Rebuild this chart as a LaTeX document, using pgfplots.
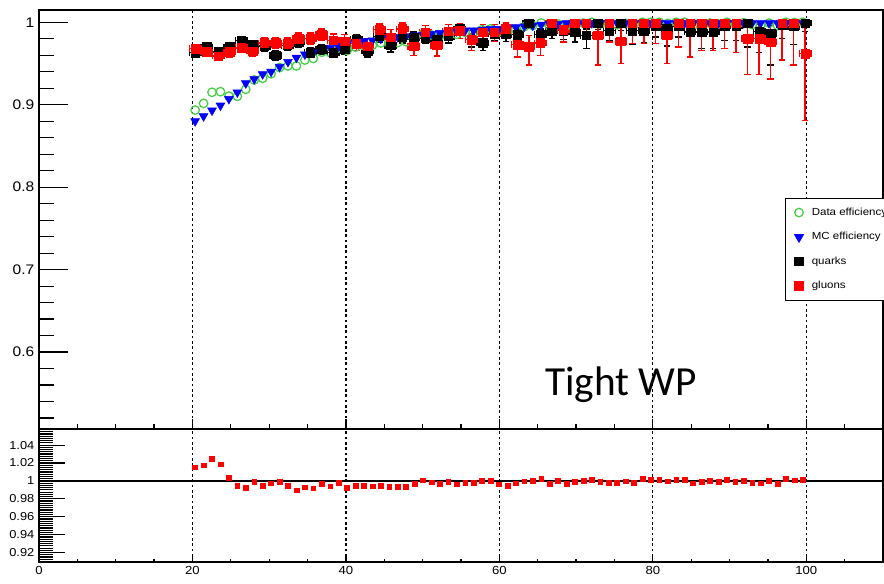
\documentclass[border=0pt]{standalone}
\usepackage{pgfplots}
\pgfplotsset{compat=1.18}
\usepackage{pgfplotstable}
\usepackage{fontspec}
\newfontfamily\rootfont[FakeStretch=1.12]{Liberation Sans}
\newfontfamily\calibri{Carlito}

\definecolor{effgreen}{RGB}{70,205,70}
\definecolor{mcblue}{RGB}{0,0,255}
\definecolor{glred}{RGB}{255,0,0}

% efficiency vs pT: MC, data and data/MC ratio
\pgfplotstableread{
x mc data ratio
20.35 0.880 0.8935 1.0153
21.45 0.886 0.9016 1.0176
22.55 0.893 0.9151 1.0247
23.65 0.899 0.9158 1.0187
24.75 0.907 0.9104 1.0037
25.85 0.915 0.9102 0.9948
26.95 0.926 0.9187 0.9921
28.05 0.931 0.9300 0.9989
29.15 0.937 0.9321 0.9948
30.25 0.940 0.9376 0.9974
31.35 0.946 0.9450 0.9989
32.45 0.952 0.9470 0.9948
33.55 0.957 0.9470 0.9895
34.65 0.961 0.9542 0.9929
35.75 0.964 0.9561 0.9918
36.85 0.967 0.9637 0.9966
37.95 0.969 0.9632 0.9940
39.05 0.971 0.9689 0.9978
40.15 0.973 0.9657 0.9925
41.25 0.975 0.9699 0.9948
42.35 0.977 0.9715 0.9944
43.45 0.978 0.9721 0.9940
44.55 0.980 0.9749 0.9948
45.65 0.981 0.9744 0.9933
46.75 0.982 0.9754 0.9933
47.85 0.983 0.9764 0.9933
48.95 0.984 0.9810 0.9970
50.05 0.985 0.9857 1.0007
51.15 0.986 0.9845 0.9985
52.25 0.987 0.9836 0.9966
53.35 0.988 0.9869 0.9989
54.45 0.989 0.9853 0.9963
55.55 0.990 0.9878 0.9978
56.65 0.990 0.9878 0.9978
57.75 0.991 0.9910 1.0000
58.85 0.992 0.9920 1.0000
59.95 0.992 0.9883 0.9963
61.05 0.993 0.9878 0.9948
62.15 0.994 0.9914 0.9974
63.25 0.995 0.9946 0.9996
64.35 0.996 0.9960 1.0000
65.45 0.997 0.9992 1.0022
66.55 0.998 0.9950 0.9970
67.65 0.998 0.9980 1.0000
68.75 0.999 0.9960 0.9970
69.85 0.999 0.9979 0.9989
70.95 0.999 0.9990 1.0000
72.05 0.999 1.0000 1.0011
73.15 0.999 0.9979 0.9989
74.25 0.999 0.9971 0.9981
75.35 0.999 0.9971 0.9981
76.45 0.999 0.9986 0.9996
77.55 0.999 0.9968 0.9978
78.65 0.999 1.0000 1.0022
79.75 0.999 1.0000 1.0015
80.85 0.999 1.0000 1.0011
81.95 0.999 0.9986 0.9996
83.05 0.999 1.0000 1.0011
84.15 0.999 1.0000 1.0015
85.25 0.999 0.9964 0.9974
86.35 0.999 0.9979 0.9989
87.45 0.999 0.9990 1.0000
88.55 0.999 0.9979 0.9989
89.65 0.999 1.0000 1.0015
90.75 0.999 0.9979 0.9989
91.85 0.999 0.9994 1.0004
92.95 0.999 0.9971 0.9981
94.05 0.999 0.9964 0.9974
95.15 0.999 0.9990 1.0000
96.25 0.999 0.9960 0.9970
97.35 0.999 1.0000 1.0026
98.45 0.999 0.9997 1.0007
99.55 0.999 1.0000 1.0011
}\efftable

% quark and gluon efficiencies with asymmetric errors
\pgfplotstableread{
x q qp qm g gp gm
20.35 0.963 0.006 0.006 0.968 0.005 0.005
21.85 0.970 0.005 0.005 0.964 0.005 0.005
23.35 0.964 0.005 0.005 0.959 0.005 0.005
24.85 0.970 0.005 0.005 0.964 0.006 0.006
26.35 0.978 0.005 0.005 0.969 0.006 0.006
27.85 0.973 0.005 0.005 0.965 0.006 0.006
29.35 0.971 0.006 0.006 0.975 0.006 0.006
30.85 0.960 0.006 0.006 0.975 0.006 0.006
32.35 0.972 0.006 0.006 0.974 0.007 0.007
33.85 0.976 0.006 0.006 0.980 0.007 0.007
35.35 0.963 0.006 0.006 0.980 0.007 0.007
36.85 0.967 0.006 0.006 0.985 0.007 0.007
38.35 0.963 0.006 0.006 0.978 0.008 0.008
39.85 0.968 0.006 0.007 0.977 0.008 0.008
41.35 0.979 0.006 0.007 0.974 0.008 0.008
42.85 0.965 0.007 0.007 0.971 0.009 0.009
44.35 0.983 0.006 0.007 0.991 0.007 0.009
45.85 0.972 0.007 0.008 0.982 0.009 0.010
47.35 0.982 0.006 0.007 0.992 0.007 0.009
48.85 0.982 0.006 0.007 0.971 0.011 0.011
50.35 0.981 0.006 0.007 0.988 0.008 0.010
51.85 0.979 0.007 0.008 0.972 0.012 0.013
53.35 0.983 0.006 0.008 0.989 0.008 0.010
54.85 0.992 0.005 0.007 0.990 0.008 0.010
56.35 0.979 0.007 0.009 0.979 0.011 0.013
57.85 0.975 0.008 0.009 0.988 0.009 0.011
59.35 0.986 0.006 0.008 0.988 0.009 0.011
60.85 0.986 0.007 0.009 0.992 0.007 0.011
62.35 0.985 0.007 0.009 0.973 0.013 0.015
63.85 0.999 0.001 0.006 0.970 0.014 0.022
65.35 0.985 0.007 0.010 0.975 0.013 0.015
66.85 0.990 0.006 0.010 0.999 0.001 0.010
68.35 0.990 0.006 0.011 0.991 0.008 0.015
69.85 0.988 0.007 0.012 0.999 0.001 0.012
71.35 0.984 0.008 0.016 0.999 0.001 0.012
72.85 0.999 0.001 0.008 0.984 0.015 0.036
74.35 0.990 0.007 0.012 0.999 0.001 0.023
75.85 0.999 0.001 0.009 0.977 0.021 0.027
77.35 0.990 0.007 0.017 0.999 0.001 0.025
78.85 0.990 0.007 0.015 0.999 0.001 0.025
80.35 0.996 0.004 0.014 0.999 0.001 0.025
81.85 0.992 0.006 0.021 0.984 0.015 0.034
83.35 0.995 0.004 0.013 0.999 0.001 0.029
84.85 0.988 0.008 0.030 0.999 0.001 0.041
86.35 0.988 0.008 0.020 0.999 0.001 0.033
87.85 0.988 0.008 0.020 0.999 0.001 0.033
89.35 0.996 0.004 0.018 0.999 0.001 0.031
90.85 0.996 0.004 0.018 0.999 0.001 0.036
92.35 0.999 0.001 0.029 0.980 0.019 0.043
93.85 0.989 0.008 0.026 0.980 0.019 0.043
95.35 0.986 0.010 0.038 0.976 0.023 0.045
96.85 0.997 0.003 0.017 0.999 0.001 0.045
98.35 0.995 0.004 0.022 0.999 0.001 0.051
99.85 0.999 0.001 0.010 0.962 0.037 0.081
}\qgtable

\pgfplotsset{
  rootframe/.style={
    scale only axis, width=633pt, xmin=0, xmax=110, anchor=south west,
    axis line style={line width=1.1pt},
    tick align=inside, xtick pos=left, ytick pos=left,
    tick style={black, line width=0.9pt},
    xtick={0,20,40,60,80,100},
    minor xtick={5,10,15,25,30,35,45,50,55,65,70,75,85,90,95,105},
    xmajorgrids,
    major x grid style={black, line width=0.9pt, dash pattern=on 2pt off 2pt},
    yticklabel style={font=\rootfont\fontsize{10.4}{12}\selectfont},
    xticklabel style={font=\rootfont\fontsize{8.8}{10}\selectfont},
  },
  qgbars/.style={error bars/.cd, x dir=both, x fixed=0.75, y dir=both, y explicit,
    error bar style={line width=1.05pt},
    error mark options={rotate=90, mark size=2.5pt, line width=1.05pt}},
}

\begin{document}
\begin{tikzpicture}
\useasboundingbox (0,0) rectangle (663pt,438pt);
\clip (0,0) rectangle (663pt,438pt);

% upper pad: efficiencies
\begin{axis}[rootframe,
  at={(29.25pt,116.25pt)}, height=314.25pt,
  ymin=0.5067, ymax=1.0149,
  ytick={0.6,0.7,0.8,0.9,1}, yticklabels={0.6,0.7,0.8,0.9,1},
  minor ytick={0.52,0.54,0.56,0.58,0.62,0.64,0.66,0.68,0.72,0.74,0.76,0.78,0.82,0.84,0.86,0.88,0.92,0.94,0.96,0.98},
  xticklabel=\empty,
  major tick length=21.75pt, minor tick length=11.25pt,
  xtick style={/pgfplots/major tick length=7.5pt, /pgfplots/minor tick length=3.75pt},
  legend style={at={(0.8839,0.5513)}, anchor=north west, draw=black, line width=0.75pt,
    fill=white, font=\rootfont\fontsize{7.7}{8.8}\selectfont,
    inner xsep=6.5pt, inner ysep=5pt, row sep=7.3pt, column sep=4pt},
  legend cell align=left,
  legend image code/.code={\path (-3.25pt,0pt) (3.25pt,0pt); \draw[#1] plot coordinates {(0pt,0pt)};},
]
\addplot[only marks, mark=o, mark size=3.2pt, effgreen, mark options={line width=0.95pt}]
  table[x=x, y=data]{\efftable};
\addplot[only marks, mark=triangle*, mark size=3.8pt, mcblue, mark options={rotate=180}]
  table[x=x, y=mc]{\efftable};
\addplot[only marks, mark=square*, mark size=3.2pt, black, qgbars]
  table[x=x, y=q, y error plus=qp, y error minus=qm]{\qgtable};
\addplot[only marks, mark=square*, mark size=3.2pt, glred, qgbars]
  table[x=x, y=g, y error plus=gp, y error minus=gm]{\qgtable};
\legend{Data efficiency, MC efficiency, quarks, gluons}
\end{axis}

% lower pad: data/MC ratio
\begin{axis}[rootframe,
  at={(29.25pt,16.5pt)}, height=99.75pt,
  ymin=0.9095, ymax=1.058,
  ytick={0.92,0.94,0.96,0.98,1,1.02,1.04},
  yticklabels={0.92,0.94,0.96,0.98,1,1.02,1.04},
  minor ytick={0.91,0.9125,...,1.0575},
  xticklabels={0,20,40,60,80,100},
  yticklabel style={font=\rootfont\fontsize{8.6}{10}\selectfont},
  major tick length=19.5pt, minor tick length=10.5pt,
  xtick style={/pgfplots/major tick length=4.5pt, /pgfplots/minor tick length=2.6pt},
]
\addplot[black, line width=1pt] coordinates {(0,1) (110,1)};
\addplot[only marks, mark=square*, mark size=1.8pt, glred] table[x=x, y=ratio]{\efftable};
\end{axis}

\node[anchor=base west, inner sep=0pt, font=\calibri\fontsize{31}{37}\selectfont]
  at (408.75pt,141pt) {Tight WP};
\end{tikzpicture}
\end{document}
